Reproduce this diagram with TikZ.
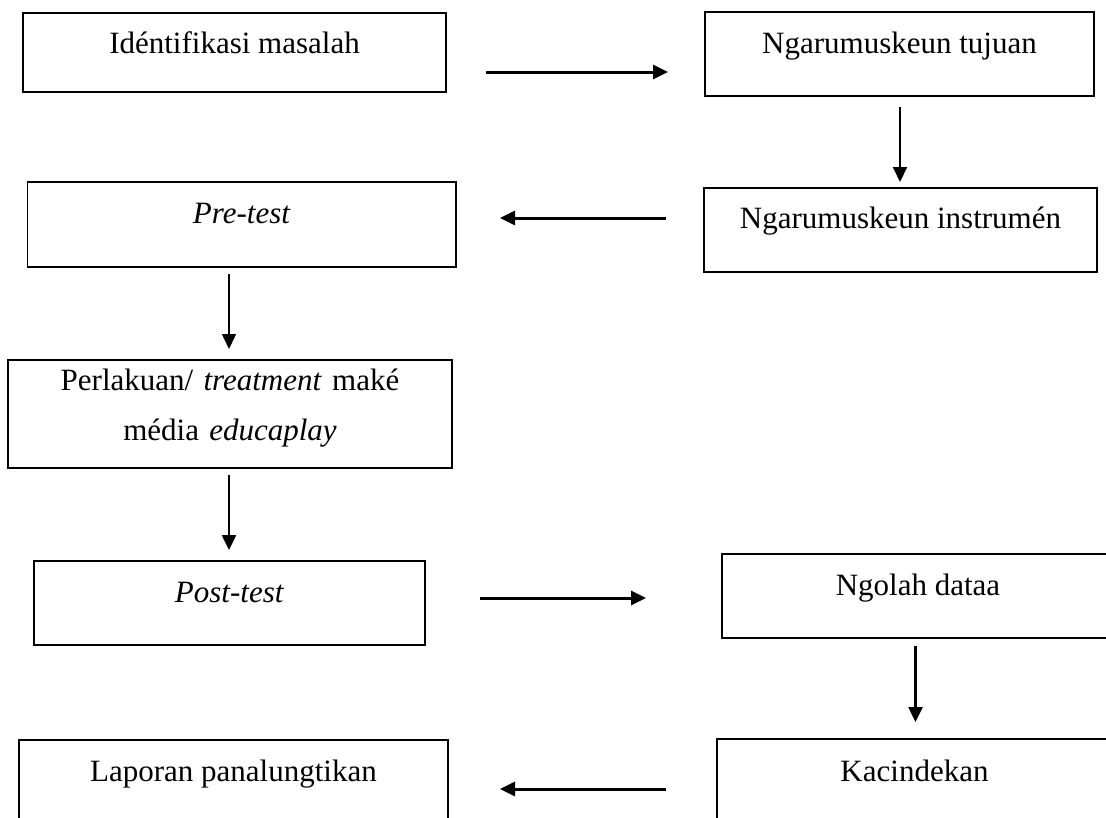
\documentclass[tikz,border=0pt]{standalone}
\usepackage{fontspec}
\setmainfont{Liberation Serif}
\usetikzlibrary{arrows.meta}

\tikzset{
  stepbox/.style={draw, line width=1.2pt, inner sep=0pt, anchor=base, font=\fontsize{31}{50}\selectfont},
  flow/.style={-{Triangle[length=15pt,width=14pt]}, line width=2.5pt},
}

\begin{document}
\begin{tikzpicture}[x=1pt,y=1pt,yscale=-1]
		\useasboundingbox (0,0) rectangle (1106,817);
		\clip (0,0) rectangle (1106,817);
		
		%Shape: Rectangle [idn]
		\node [stepbox, minimum width=423pt, text height=40pt, text depth=39pt] (idn) at (234.5,53) {Idéntifikasi masalah};
		%Shape: Rectangle [tuj]
		\node [stepbox, minimum width=389pt, text height=41pt, text depth=43pt] (tuj) at (899.5,53) {Ngarumuskeun tujuan};
		%Shape: Rectangle [ins]
		\node [stepbox, minimum width=393pt, text height=40pt, text depth=44pt] (ins) at (900.5,228) {Ngarumuskeun instrumén};
		%Shape: Rectangle [pre]
		\node [stepbox, minimum width=428.5pt, text height=41pt, text depth=44pt] (pre) at (241.75,223) {\textit{Pre-test}};
		%Shape: Rectangle [per]
		\node [stepbox, text width=444pt, align=center, text height=30pt, text depth=78pt] (per) at (230,390) {Perlakuan/ \textit{treatment} maké\\média \textit{educaplay}};
		%Shape: Rectangle [pos]
		\node [stepbox, minimum width=391pt, text height=41pt, text depth=43pt] (pos) at (229.5,602) {\textit{Post-test}};
		%Shape: Rectangle [olh]
		\node [stepbox, minimum width=392pt, text height=41pt, text depth=43pt] (olh) at (918,595) {Ngolah dataa};
		%Shape: Rectangle [kac]
		\node [stepbox, minimum width=395pt, text height=42pt, text depth=44pt] (kac) at (914.5,781) {Kacindekan};
		%Shape: Rectangle [lap]
		\node [stepbox, minimum width=429pt, text height=41pt, text depth=44pt] (lap) at (233.5,781) {Laporan panalungtikan};
		
		%Arrow ends
		\coordinate (a1s) at (486,72);   \coordinate (a1e) at (668,72);
		\coordinate (a2s) at (900,107);  \coordinate (a2e) at (900,182);
		\coordinate (a3s) at (666,218);  \coordinate (a3e) at (500,218);
		\coordinate (a4s) at (229,274);  \coordinate (a4e) at (229,349);
		\coordinate (a5s) at (229,475);  \coordinate (a5e) at (229,550);
		\coordinate (a6s) at (480,598);  \coordinate (a6e) at (646,598);
		\coordinate (a7s) at (915.5,646); \coordinate (a7e) at (915.5,722);
		\coordinate (a8s) at (666,789);  \coordinate (a8e) at (500,789);
		
		%Straight Lines
		\draw [flow, line width=3pt] (a1s) -- (a1e);
		\draw [flow, line width=2pt] (a2s) -- (a2e);
		\draw [flow, line width=3pt] (a3s) -- (a3e);
		\draw [flow, line width=1.5pt] (a4s) -- (a4e);
		\draw [flow] (a5s) -- (a5e);
		\draw [flow, line width=3pt] (a6s) -- (a6e);
		\draw [flow] (a7s) -- (a7e);
		\draw [flow, line width=3pt] (a8s) -- (a8e);
	\end{tikzpicture}
\end{document}
